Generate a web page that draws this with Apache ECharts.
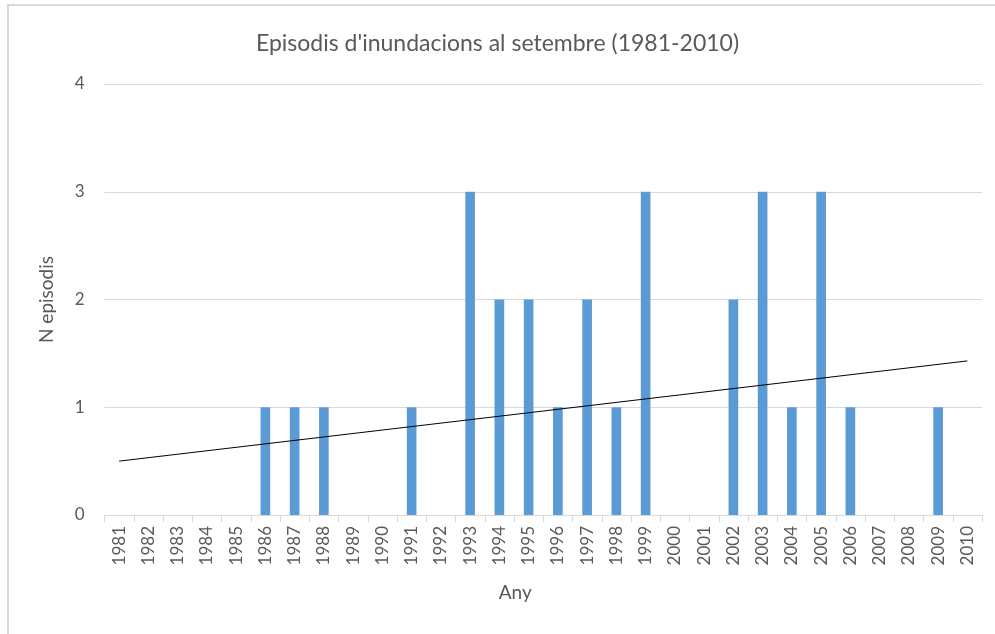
<!DOCTYPE html>
<html>
<head>
<meta charset="utf-8">
<script src="https://cdn.jsdelivr.net/npm/echarts@6/dist/echarts.min.js"></script>
<style>
  html, body { margin: 0; padding: 0; background: #fff; }
  #chart { width: 995px; height: 634px; }
</style>
</head>
<body>
<div id="chart"></div>
<script>
// anys 1981-2010
const years = ['1981', '1982', '1983', '1984', '1985', '1986', '1987', '1988', '1989', '1990',
    '1991', '1992', '1993', '1994', '1995', '1996', '1997', '1998', '1999', '2000',
    '2001', '2002', '2003', '2004', '2005', '2006', '2007', '2008', '2009', '2010'];
// nombre d'episodis per any
const episodes = [0, 0, 0, 0, 0, 1, 1, 1, 0, 0,
    1, 0, 3, 2, 2, 1, 2, 1, 3, 0,
    0, 2, 3, 1, 3, 1, 0, 0, 1, 0];
// linia de tendencia (extrems llegits del grafic)
const trendPoints = [['1981', 0.5], ['2010', 1.43]];
const yTicks = [0, 1, 2, 3, 4];

const font = 'Lato, "Open Sans", sans-serif';
const textGray = '#595959';
const lineGray = '#D9D9D9';

let chart = echarts.init(document.getElementById('chart'));
chart.setOption({
    animation: false,
    textStyle: { fontFamily: font },
    title: {
        text: "Episodis d'inundacions al setembre (1981-2010)",
        left: 'center',
        top: 27,
        textStyle: { color: textGray, fontSize: 23, fontWeight: 'normal', fontFamily: font }
    },
    graphic: [{
        type: 'polyline',
        shape: { points: [[8, 640], [8, 5], [1000, 5]] },
        style: { stroke: lineGray, lineWidth: 2, fill: null }
    }],
    grid: { left: 104.5, right: 13, top: 84, bottom: 119 },
    xAxis: {
        type: 'category',
        data: years,
        name: 'Any',
        nameLocation: 'middle',
        nameGap: 68,
        nameTextStyle: { color: textGray, fontSize: 19, fontFamily: font, padding: [0, 56, 0, 0] },
        axisLine: { lineStyle: { color: lineGray, width: 1 } },
        axisTick: { show: true, length: 7, lineStyle: { color: lineGray } },
        axisLabel: { rotate: 90, color: textGray, fontSize: 17, margin: 11, fontFamily: font }
    },
    yAxis: {
        type: 'value',
        min: yTicks[0],
        max: yTicks[yTicks.length - 1],
        interval: 1,
        name: 'N episodis',
        nameLocation: 'middle',
        nameGap: 48,
        nameTextStyle: { color: textGray, fontSize: 19, fontFamily: font },
        axisLine: { show: false },
        axisTick: { show: false },
        axisLabel: { color: textGray, fontSize: 17, margin: 20, fontFamily: font },
        splitLine: { lineStyle: { color: lineGray, width: 1 } }
    },
    series: [
        {
            name: 'Episodis',
            type: 'bar',
            data: episodes,
            barWidth: '33%',
            itemStyle: { color: '#5B9BD5' }
        },
        {
            name: 'Tendència',
            type: 'line',
            data: trendPoints,
            symbol: 'none',
            lineStyle: { color: '#000', width: 1 },
            z: 5
        }
    ]
});
</script>
</body>
</html>
